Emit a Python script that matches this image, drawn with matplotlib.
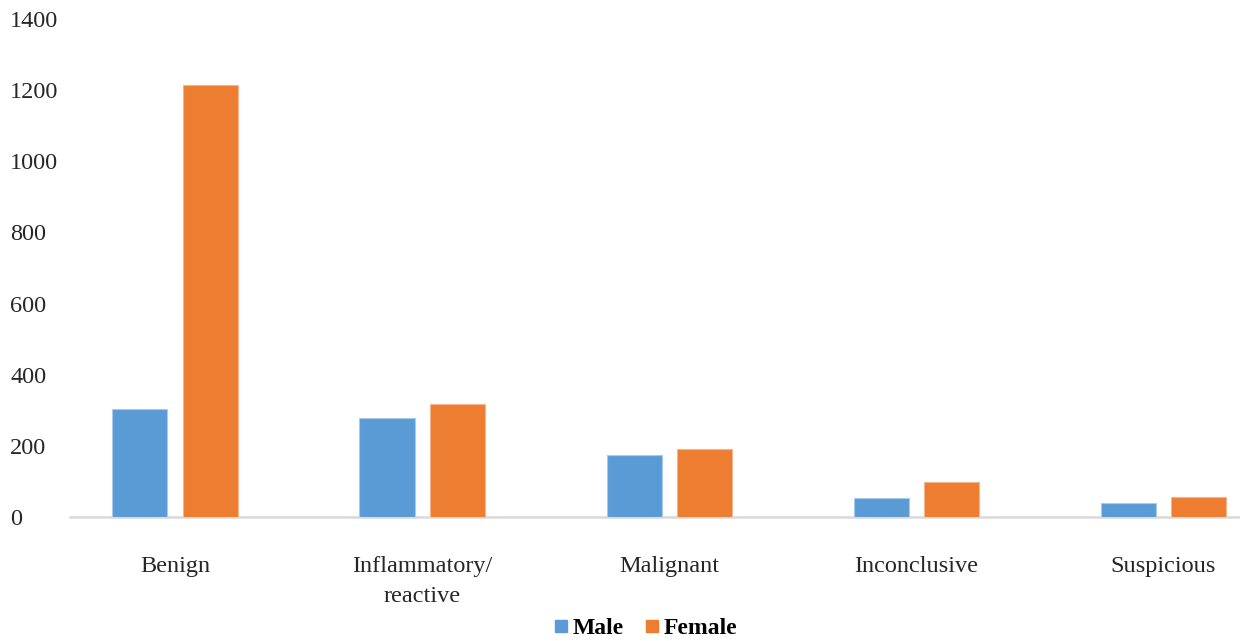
import numpy as np
import matplotlib
matplotlib.use("Agg")
import matplotlib.pyplot as plt
from matplotlib.lines import Line2D

# data
categories = ["Benign", "Inflammatory/\nreactive", "Malignant", "Inconclusive", "Suspicious"]
male = [304, 278, 174, 53, 40]
female = [1215, 317, 191, 99, 57]
yticks = [0, 200, 400, 600, 800, 1000, 1200, 1400]

blue = "#5B9BD5"
orange = "#ED7D31"

plt.rcParams['font.family'] = ['Liberation Serif', 'DejaVu Serif']

fig = plt.figure(figsize=(12.4, 6.41), dpi=100)
W, H = 1240, 641
ax = fig.add_axes([70 / W, (H - 517) / H, (1240 - 70) / W, (517 - 19) / H])

x = np.arange(len(categories))
bw = 0.223
off = 0.142
ax.bar(x - off, male, bw, color=blue, edgecolor="#A9CBEA", linewidth=0.8, zorder=3)
ax.bar(x + off, female, bw, color=orange, edgecolor="#F5B48C", linewidth=0.8, zorder=3)

ax.set_xlim(-0.425, 4.31)
ax.set_ylim(0, 1400)
ax.set_yticks(yticks)
ax.set_yticklabels([str(v) for v in yticks], ha='left')
ax.tick_params(axis='y', length=0, pad=43, labelsize=17.5, labelcolor="#262626")
ax.set_xticks(x)
ax.set_xticklabels(categories, linespacing=1.6)
ax.tick_params(axis='x', length=0, pad=28, labelsize=17.5, labelcolor="#262626")

for s in ['top', 'right', 'left']:
    ax.spines[s].set_visible(False)
ax.spines['bottom'].set_color("#D9D9D9")
ax.spines['bottom'].set_linewidth(1.8)

handles = [Line2D([], [], marker='s', linestyle='none', markersize=8, color=blue),
           Line2D([], [], marker='s', linestyle='none', markersize=8, color=orange)]
fig.legend(handles, ["Male", "Female"], loc='center', bbox_to_anchor=(642 / W, 13 / H),
           ncol=2, frameon=False, handletextpad=-0.1, columnspacing=0.6, handlelength=1.2,
           prop={'weight': 'bold', 'size': 17})

fig.savefig("out.png", dpi=100, facecolor="white")
